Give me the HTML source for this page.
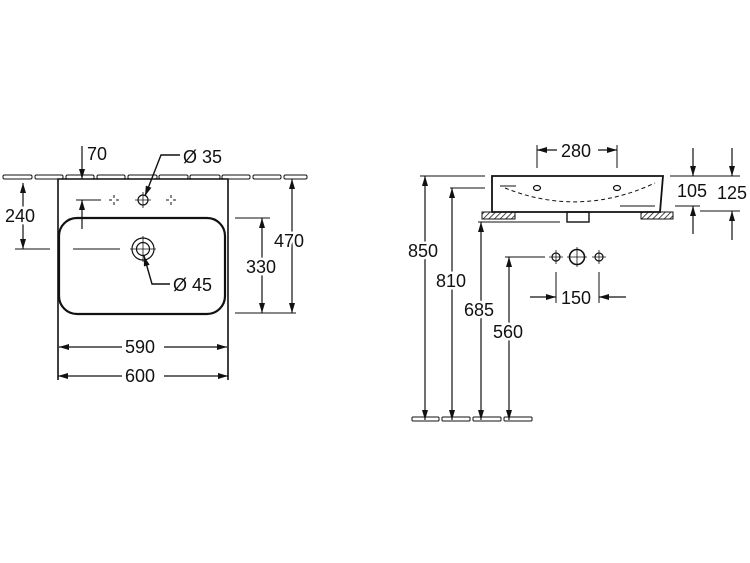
<!DOCTYPE html>
<html><head><meta charset="utf-8"><style>
html,body{margin:0;padding:0;background:#fff}
svg{display:block}
text{font-family:"Liberation Sans",Arial,sans-serif;font-size:18px;fill:#111;stroke:#fff;stroke-width:5px;paint-order:stroke;stroke-linejoin:round}
</style></head><body>
<svg width="750" height="563" viewBox="0 0 750 563" xmlns="http://www.w3.org/2000/svg">
<defs>
<marker id="a" viewBox="0 0 10 6" refX="10" refY="3" markerWidth="12" markerHeight="6" orient="auto-start-reverse" markerUnits="userSpaceOnUse"><path d="M0,0 L10,3 L0,6 z" fill="#111"/></marker>
<pattern id="h" width="4" height="4" patternUnits="userSpaceOnUse" patternTransform="rotate(45)"><line x1="0" y1="0" x2="0" y2="4" stroke="#111" stroke-width="1.5"/></pattern>
</defs>
<g stroke="#111" fill="none" stroke-width="1.2">
<g stroke-width="1">
<rect x="3" y="175" width="29" height="4" rx="1.5"/><rect x="35" y="175" width="28" height="4" rx="1.5"/><rect x="66" y="175" width="28" height="4" rx="1.5"/><rect x="97" y="175" width="28" height="4" rx="1.5"/><rect x="128" y="175" width="29" height="4" rx="1.5"/><rect x="159" y="175" width="29" height="4" rx="1.5"/><rect x="190" y="175" width="30" height="4" rx="1.5"/><rect x="222" y="175" width="28" height="4" rx="1.5"/><rect x="253" y="175" width="28" height="4" rx="1.5"/><rect x="284" y="175" width="23" height="4" rx="1.5"/>
</g>
<path d="M58,380 V179 H228 V380" stroke-width="1.6" fill="#fff"/>
<rect x="59" y="218" width="166" height="96" rx="18" stroke-width="2.2"/>
<circle cx="143" cy="200" r="5"/><path d="M143,192V208M135,200H151" stroke-width="0.8"/>
<g stroke-width="1"><path d="M114,195v3M114,202v3M109,200h3M116,200h3M171,195v3M171,202v3M166,200h3M173,200h3"/></g>
<circle cx="143" cy="249" r="11"/><circle cx="143" cy="249" r="6.5"/><path d="M143,236V262M130,249H156" stroke-width="0.8"/>
<path d="M15,249H50M73,249H120" stroke-width="1"/>
<line x1="23" y1="183" x2="23" y2="249" marker-start="url(#a)" marker-end="url(#a)"/>
<line x1="82" y1="146" x2="82" y2="179" marker-end="url(#a)"/>
<path d="M76,200H101" stroke-width="1"/><line x1="82" y1="229" x2="82" y2="200" marker-end="url(#a)"/>
<path d="M180,155H161L145,196" marker-end="url(#a)" stroke-width="1.4"/>
<path d="M170,284H152L144,256" marker-end="url(#a)" stroke-width="1.4"/>
<path d="M235,218H270M235,313H296" stroke-width="1"/>
<line x1="262" y1="218" x2="262" y2="313" marker-start="url(#a)" marker-end="url(#a)"/>
<line x1="292" y1="179" x2="292" y2="313" marker-start="url(#a)" marker-end="url(#a)"/>
<line x1="59" y1="347" x2="122" y2="347" marker-start="url(#a)"/><line x1="164" y1="347" x2="227" y2="347" marker-end="url(#a)"/>
<line x1="58" y1="376" x2="122" y2="376" marker-start="url(#a)"/><line x1="164" y1="376" x2="228" y2="376" marker-end="url(#a)"/>

<path d="M492,176H663L660,212H492Z" stroke-width="1.8" fill="#fff"/>
<path d="M505,188 Q580,218 655,183" stroke-dasharray="4,3" stroke-width="1"/>
<path d="M500,186H516M620,206H655" stroke-width="1"/>
<ellipse cx="537" cy="188" rx="3.5" ry="2.5"/><ellipse cx="617" cy="188" rx="3.5" ry="2.5"/>
<rect x="567" y="212" width="22" height="10" stroke-width="1.4"/>
<rect x="482" y="212" width="33" height="7" fill="url(#h)" stroke-width="1"/>
<rect x="641" y="212" width="32" height="7" fill="url(#h)" stroke-width="1"/>
<path d="M537,145V168M617,145V168" stroke-width="1"/>
<line x1="557" y1="150" x2="537" y2="150" marker-end="url(#a)"/><line x1="598" y1="150" x2="617" y2="150" marker-end="url(#a)"/>
<path d="M670,176H740M675,206H700M700,211H740" stroke-width="1"/>
<line x1="693" y1="148" x2="693" y2="176" marker-end="url(#a)"/><line x1="693" y1="234" x2="693" y2="206" marker-end="url(#a)"/>
<line x1="732" y1="148" x2="732" y2="176" marker-end="url(#a)"/><line x1="732" y1="240" x2="732" y2="211" marker-end="url(#a)"/>
<path d="M420,176H485M450,188H485M478,222H560M505,257H545" stroke-width="1"/>
<line x1="425" y1="176" x2="425" y2="420" marker-start="url(#a)" marker-end="url(#a)"/>
<line x1="452" y1="188" x2="452" y2="420" marker-start="url(#a)" marker-end="url(#a)"/>
<line x1="481" y1="222" x2="481" y2="420" marker-start="url(#a)" marker-end="url(#a)"/>
<line x1="509" y1="257" x2="509" y2="420" marker-start="url(#a)" marker-end="url(#a)"/>
<g stroke-width="1"><rect x="412" y="417" width="27" height="4" rx="1"/><rect x="442" y="417" width="28" height="4" rx="1"/><rect x="473" y="417" width="28" height="4" rx="1"/><rect x="504" y="417" width="28" height="4" rx="1"/></g>
<circle cx="556" cy="257" r="4"/><circle cx="599" cy="257" r="4"/><circle cx="577" cy="257" r="7.5" stroke-width="1.6"/>
<path d="M556,250V264M549,257H563M599,250V264M592,257H606M577,247V267M567,257H587" stroke-width="0.8"/>
<path d="M556,272V303M599,272V303" stroke-width="1"/>
<line x1="530" y1="297" x2="556" y2="297" marker-end="url(#a)"/><line x1="626" y1="297" x2="599" y2="297" marker-end="url(#a)"/>
</g>
<text x="5" y="222">240</text>
<text x="87" y="160">70</text>
<text x="183" y="163">Ø 35</text>
<text x="173" y="291">Ø 45</text>
<text x="246" y="273">330</text>
<text x="274" y="247">470</text>
<text x="125" y="353">590</text>
<text x="125" y="382">600</text>
<text x="561" y="157">280</text>
<text x="677" y="197">105</text>
<text x="717" y="199">125</text>
<text x="408" y="257">850</text>
<text x="436" y="287">810</text>
<text x="464" y="316">685</text>
<text x="493" y="338">560</text>
<text x="561" y="304">150</text>
</svg>
</body></html>
